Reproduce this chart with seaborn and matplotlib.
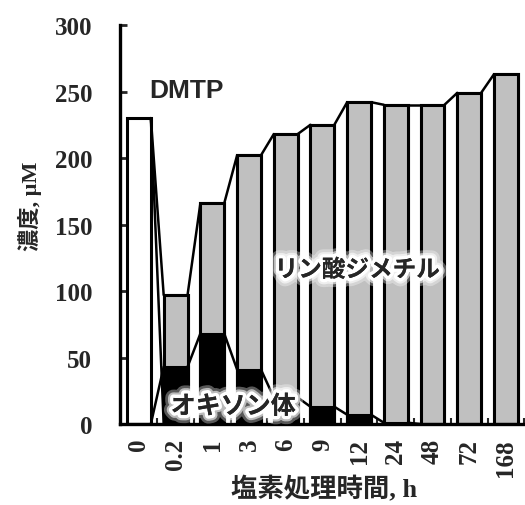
import numpy as np
import pandas as pd
import matplotlib
matplotlib.use("Agg")
import matplotlib.pyplot as plt
import matplotlib.patheffects as pe
import seaborn as sns

# Sampling times after chlorination (h) and measured concentrations (uM)
times = ["0", "0.2", "1", "3", "6", "9", "12", "24", "48", "72", "168"]
dmtp = [230, 0, 0, 0, 0, 0, 0, 0, 0, 0, 0]
oxon = [0, 43, 68, 41, 20, 13, 7, 1, 0, 0, 0]
dmp = [0, 54, 98, 161, 198, 212, 235, 239, 240, 249, 263]

df = pd.DataFrame({"time": times, "DMTP": dmtp, "oxon": oxon, "DMP": dmp})
df["lower"] = df["oxon"]
df["middle"] = df["oxon"] + df["DMP"]
df["total"] = df["middle"] + df["DMTP"]

sns.set_theme(style="white")
plt.rcParams["font.family"] = ["Liberation Serif", "Noto Sans CJK JP"]

fig = plt.figure(figsize=(5.25, 5.06), dpi=100)
ax = fig.add_axes([0.2286, 0.160, 0.770, 0.7886])

bar_w = 0.65
edge_lw = 2.2
common = dict(x="time", order=times, width=bar_w, edgecolor="black",
              linewidth=edge_lw, ax=ax, saturation=1)
# stacked layers drawn from the top down: DMTP (white), dimethyl phosphate (grey), oxon (black)
sns.barplot(data=df, y="total", color="white", **common)
sns.barplot(data=df, y="middle", color="#c0c0c0", **common)
sns.barplot(data=df, y="lower", color="black", **common)

# connector lines between neighbouring bars
pos = np.arange(len(times))
half = bar_w / 2
line_kw = dict(color="black", lw=1.8, solid_capstyle="round", zorder=1)
for series in (df["total"].values, df["lower"].values):
    for i in range(len(times) - 1):
        ax.plot([pos[i] + half, pos[i + 1] - half], [series[i], series[i + 1]], **line_kw)
dm = df["DMTP"].values
ax.plot([pos[0] + half, pos[1] - half], [dm[0], dm[1]], **line_kw)

ax.set_xlim(-0.515, 10.43)
ax.set_ylim(0, 300)
ax.set_yticks(np.arange(0, 301, 50))

for s in ("top", "right"):
    ax.spines[s].set_visible(False)
for s in ("left", "bottom"):
    ax.spines[s].set_linewidth(2.4)
    ax.spines[s].set_color("black")

ax.tick_params(axis="y", direction="in", length=5, width=2, pad=20,
               labelsize=18, left=True)
ax.tick_params(axis="x", which="major", length=0, pad=10, labelsize=18,
               labelrotation=90)
ax.set_xticks(pos + 0.5, minor=True)
ax.tick_params(axis="x", which="minor", direction="in", length=4, width=1.5,
               bottom=True)
for lab in ax.get_xticklabels() + ax.get_yticklabels():
    lab.set_fontweight("bold")
    lab.set_family("Liberation Serif")

ax.set_xlabel("")
ax.set_ylabel("")
fig.text(0.617, 0.008, "塩素処理時間, h", ha="center", va="bottom",
         fontsize=19, fontweight="bold")
fig.text(0.058, 0.592, "濃度, μM", ha="center", va="center", rotation=90,
         fontsize=16, fontweight="bold")

glow = [pe.withStroke(linewidth=12, foreground="white", alpha=0.35),
        pe.withStroke(linewidth=8, foreground="white", alpha=0.6),
        pe.withStroke(linewidth=5, foreground="white"), pe.Normal()]
ax.text(1.3, 251, "DMTP", ha="center", va="center", fontsize=19,
        fontweight="bold", family="Liberation Sans")
ax.text(5.95, 116, "リン酸ジメチル", ha="center", va="center", fontsize=17,
        fontweight="bold", family=["Noto Sans CJK JP"], path_effects=glow)
ax.text(2.57, 13, "オキソン体", ha="center", va="center", fontsize=18,
        fontweight="bold", family=["Noto Sans CJK JP"], path_effects=glow)

fig.savefig("out.png", dpi=100)
